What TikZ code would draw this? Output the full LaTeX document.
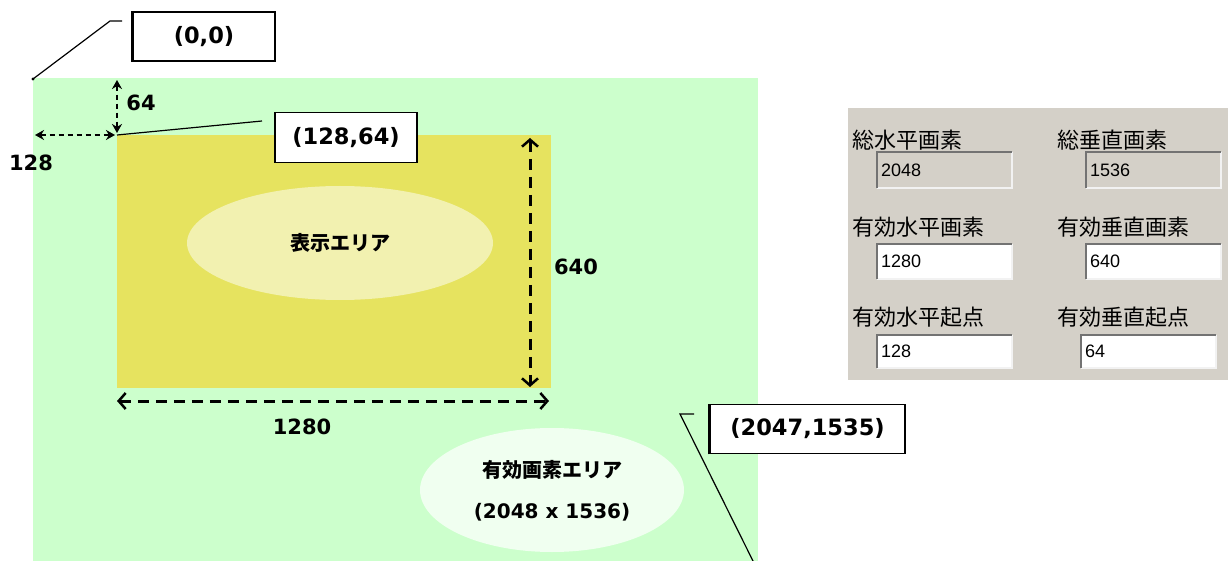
\documentclass[tikz,border=0pt]{standalone}
\usepackage{fontspec}
\setmainfont{DejaVu Sans}
\newfontfamily\cjk{Noto Sans CJK JP}
\newfontfamily\numfont{Liberation Sans}
\usetikzlibrary{arrows.meta,shapes.geometric}
\definecolor{bggreen}{HTML}{CCFFCC}
\definecolor{dispyellow}{HTML}{E6E35F}
\definecolor{dispell}{HTML}{F2F1B0}
\definecolor{effell}{HTML}{F0FFF0}
\definecolor{panelgray}{HTML}{D4D0C8}
\newcommand{\fld}[7]{%
  \fill[#6] (#2,#3) rectangle (#4,#5);
  \draw[white!90!gray, line width=1.5pt] (#2,#5) -- (#4,#5) -- (#4,#3);
  \draw[black!55, line width=2pt] (#2,#5) -- (#2,#3) -- (#4,#3);
  \node[fieldtxt, anchor=west] (#1) at (#2+4,{(#3+#5)/2}) {#7};
}
\begin{document}
\begin{tikzpicture}[x=1pt,y=-1pt,
  lbl/.style={draw=black, line width=1.5pt, fill=white, inner sep=0pt,
    font=\fontsize{22.5}{26}\selectfont\bfseries},
  dimtxt/.style={font=\fontsize{21}{25}\selectfont\bfseries},
  bigdim/.style={dashed, dash pattern=on 11pt off 7pt, line width=3pt,
    {Straight Barb[length=7pt,width=16pt,line width=2.5pt]}-{Straight Barb[length=7pt,width=16pt,line width=2.5pt]}},
  smalldim/.style={dash pattern=on 5pt off 4pt, line width=2.5pt,
    {Stealth[length=9pt,width=10pt]}-{Stealth[length=9pt,width=10pt]}},
  leader/.style={line width=1.2pt, black},
  plabel/.style={font=\cjk\fontsize{22}{26}\selectfont, inner sep=0pt, anchor=west},
  fieldtxt/.style={font=\numfont\fontsize{18}{22}\selectfont, inner sep=0pt},
  cjkb/.style={font=\cjk\fontsize{20}{24}\selectfont\bfseries}
]
\useasboundingbox (0,0) rectangle (1228,561);

% areas
\fill[bggreen] (33,78) rectangle (758,561);
\coordinate (gnw) at (33,79);
\coordinate (gse) at (753,561);
\fill[dispyellow] (117,135) rectangle (551,388);
\coordinate (ynw) at (117,135);

\node[ellipse, fill=dispell, minimum width=306pt, minimum height=114pt, inner sep=0pt, cjkb] (disp) at (340,243) {表示エリア};
\node[ellipse, fill=effell, minimum width=264pt, minimum height=124pt, inner sep=0pt] (eff) at (552,490) {};
\node[cjkb] (efft) at (552,470) {有効画素エリア};
\node[dimtxt, font=\fontsize{20}{24}\selectfont\bfseries] (effs) at (552,512) {(2048 x 1536)};

% label boxes
\node[lbl, minimum width=142pt, minimum height=49pt] (o) at (204,36.5) {(0,0)};
\draw[line width=3pt] (o.south west) -- (o.north west);
\node[lbl, minimum width=142pt, minimum height=50pt] (s) at (346,137.5) {(128,64)};
\node[lbl, minimum width=195pt, minimum height=49pt] (e) at (807.5,429) {(2047,1535)};
\draw[line width=3pt] (e.south west) -- (e.north west);

% leaders
\coordinate (l1a) at (110,21);
\coordinate (l1b) at (122,21);
\draw[leader] (gnw) -- (l1a) -- (l1b);
\fill (gnw) circle (1.6pt);
\coordinate (l2a) at (262,121);
\draw[leader] (ynw) -- (l2a);
\coordinate (l3a) at (680,414);
\coordinate (l3b) at (694,414);
\draw[leader] (l3b) -- (l3a) -- (gse);

% dimension arrows
\coordinate (d64a) at (117,80);
\coordinate (d64b) at (117,133);
\draw[smalldim] (d64a) -- (d64b);
\node[dimtxt] (t64) at (141,103) {64};
\coordinate (d128a) at (35,135);
\coordinate (d128b) at (115,135);
\draw[smalldim] (d128a) -- (d128b);
\node[dimtxt] (t128) at (31,163) {128};
\coordinate (d640a) at (530,138);
\coordinate (d640b) at (530,387);
\draw[bigdim] (d640a) -- (d640b);
\node[dimtxt] (t640) at (576,267) {640};
\coordinate (d1280a) at (117,401);
\coordinate (d1280b) at (549,401);
\draw[bigdim] (d1280a) -- (d1280b);
\node[dimtxt] (t1280) at (302,427) {1280};

% settings panel
\fill[panelgray] (848,108) rectangle (1228,380);
\node[plabel] (p1) at (852,140) {総水平画素};
\node[plabel] (p2) at (1057,140) {総垂直画素};
\node[plabel] (p3) at (852,227) {有効水平画素};
\node[plabel] (p4) at (1057,227) {有効垂直画素};
\node[plabel] (p5) at (852,317) {有効水平起点};
\node[plabel] (p6) at (1057,317) {有効垂直起点};
\fld{f1}{877}{152}{1012}{188}{panelgray}{2048}
\fld{f2}{1086}{152}{1221}{188}{panelgray}{1536}
\fld{f3}{877}{244}{1012}{279}{white}{1280}
\fld{f4}{1086}{244}{1221}{279}{white}{640}
\fld{f5}{877}{335}{1012}{368}{white}{128}
\fld{f6}{1081}{335}{1216}{368}{white}{64}
\end{tikzpicture}
\end{document}
